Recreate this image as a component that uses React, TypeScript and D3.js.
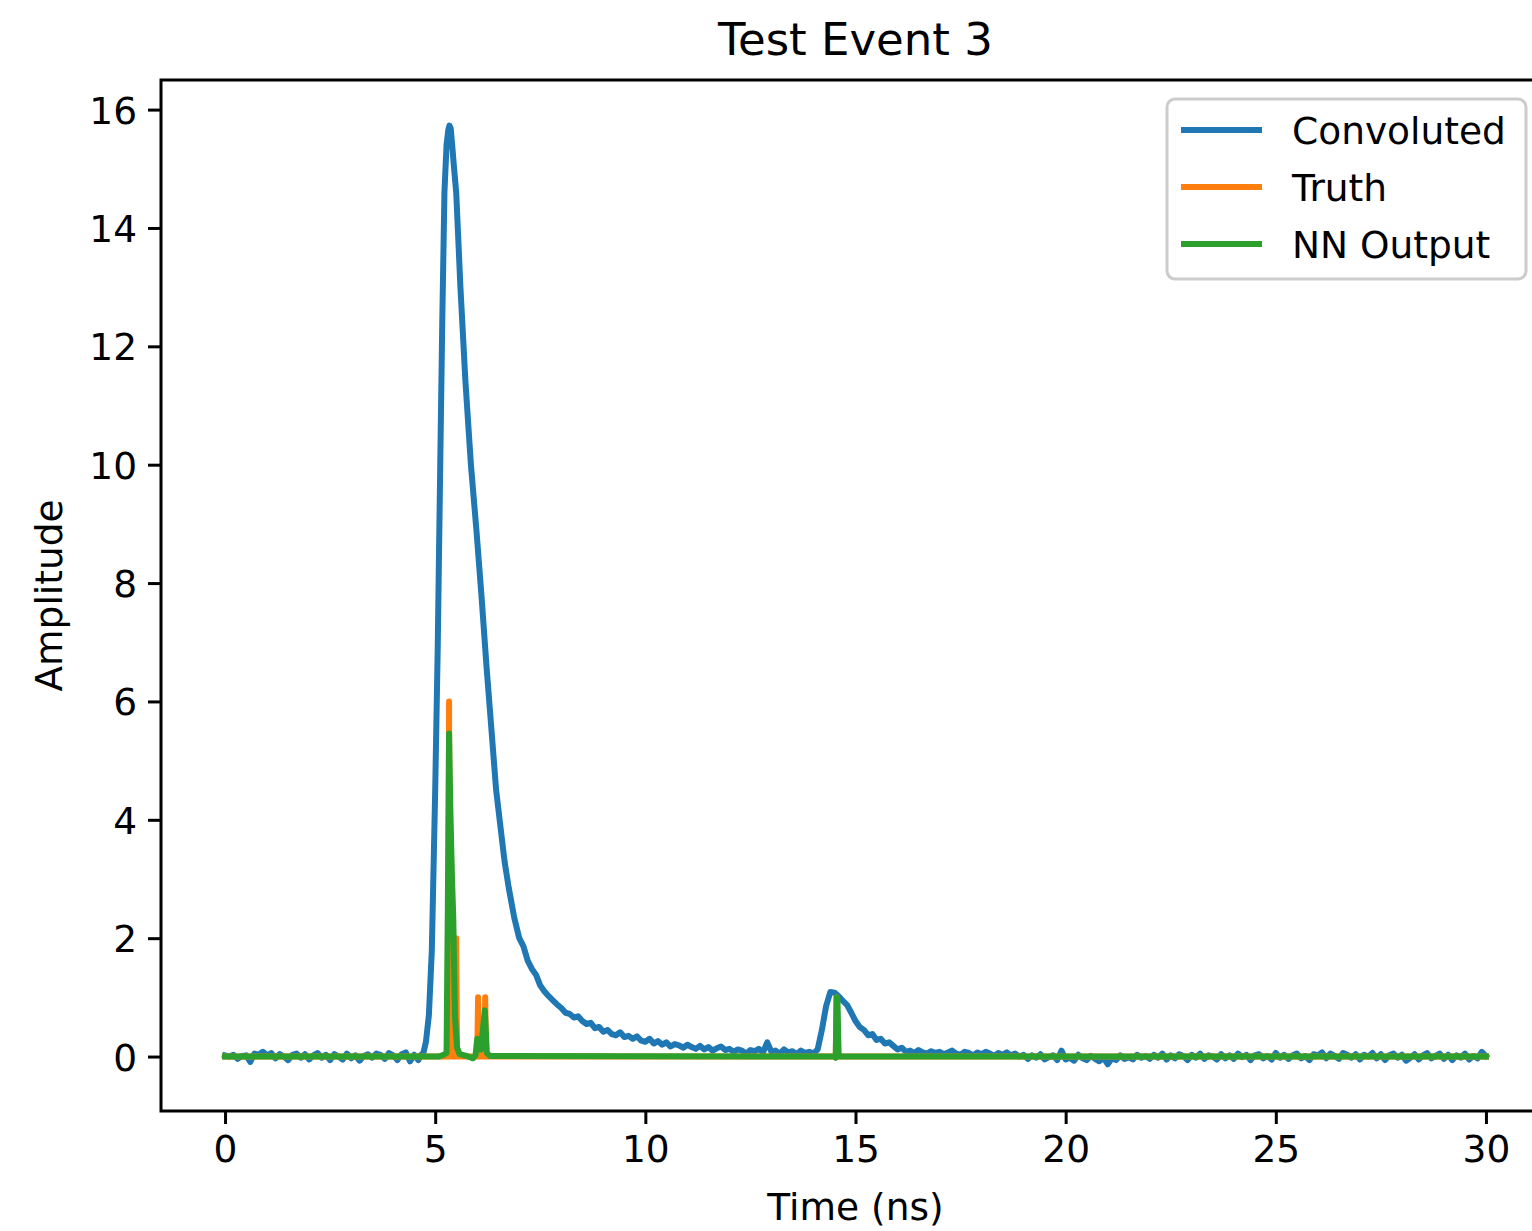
import React, { useEffect, useRef } from "react";
import * as d3 from "d3";

// Convoluted signal, sampled every 0.1 ns before the main pulse (0.0 .. 4.6 ns)
const convolutedPre = [
  0.02, 0.0, 0.03, -0.04, 0.01, 0.02, -0.09, 0.05, 0.03, 0.08,
  0.02, 0.06, -0.03, 0.04, 0.0, -0.06, 0.03, 0.05, -0.02, 0.04,
  -0.05, 0.02, 0.06, -0.02, 0.03, -0.06, 0.04, 0.0, -0.05, 0.05,
  -0.03, 0.02, -0.07, 0.01, 0.04, -0.02, 0.05, 0.03, -0.04, 0.06,
  0.02, -0.06, 0.04, 0.07, -0.08, 0.03, -0.06,
];

// main pulse, read point by point (time ns, amplitude)
const convolutedPeak: [number, number][] = [
  [4.65, 0.02], [4.72, 0.06], [4.78, 0.25], [4.85, 0.7], [4.92, 1.8],
  [5.0, 4.5], [5.06, 6.9], [5.12, 10.0], [5.17, 12.5], [5.22, 14.6],
  [5.27, 15.4], [5.31, 15.65], [5.34, 15.73], [5.37, 15.68], [5.41, 15.35],
  [5.45, 15.0], [5.5, 14.6], [5.6, 13.0], [5.72, 11.4], [5.85, 10.0],
  [5.98, 8.9], [6.1, 7.8], [6.22, 6.6], [6.33, 5.6], [6.45, 4.5],
  [6.55, 3.9], [6.65, 3.3], [6.75, 2.85], [6.88, 2.35],
];

// Convoluted signal, every 0.1 ns from 7.0 to 30.0 ns
const convolutedTail = [
  2.0, 1.86, 1.62, 1.48, 1.38, 1.2, 1.1, 1.02, 0.95, 0.88,
  0.82, 0.74, 0.72, 0.66, 0.68, 0.6, 0.55, 0.57, 0.48, 0.5,
  0.42, 0.45, 0.38, 0.36, 0.41, 0.33, 0.35, 0.3, 0.34, 0.27,
  0.25, 0.3, 0.22, 0.26, 0.2, 0.24, 0.17, 0.21, 0.19, 0.15,
  0.2, 0.16, 0.13, 0.18, 0.12, 0.16, 0.1, 0.14, 0.17, 0.11,
  0.13, 0.08, 0.12, 0.1, 0.05, 0.11, 0.09, 0.13, 0.07, 0.24,
  0.08, 0.1, 0.05, 0.12, 0.07, 0.09, 0.04, 0.1, 0.06, 0.08,
  0.05, 0.12, 0.45, 0.85, 1.09, 1.08, 1.02, 0.94, 0.87, 0.74,
  0.6, 0.5, 0.45, 0.36, 0.38, 0.28, 0.3, 0.22, 0.24, 0.18,
  0.12, 0.15, 0.08, 0.1, 0.06, 0.11, 0.07, 0.05, 0.09, 0.06,
  0.08, 0.04, 0.07, 0.1, 0.05, 0.03, 0.08, 0.06, 0.02, 0.07,
  0.04, 0.08, 0.05, 0.01, 0.06, 0.03, 0.07, 0.02, 0.05, 0.0,
  0.03, -0.04, 0.02, -0.02, 0.04, -0.05, -0.01, 0.02, -0.06, 0.1,
  -0.05, -0.02, -0.07, 0.03, -0.03, -0.06, 0.01, -0.04, -0.08, -0.02,
  -0.13, -0.03, -0.06, 0.02, -0.04, -0.01, -0.05, 0.03, -0.02, 0.01,
  -0.04, 0.03, -0.02, 0.05, -0.05, 0.02, -0.03, 0.04, 0.01, -0.06,
  0.03, -0.02, 0.05, -0.04, 0.02, 0.0, -0.05, 0.04, -0.03, 0.02,
  -0.04, 0.05, -0.01, 0.03, -0.06, 0.02, 0.04, -0.03, 0.01, -0.05,
  0.06, -0.02, 0.03, -0.04, 0.02, 0.05, -0.03, 0.01, -0.06, 0.04,
  0.02, 0.07, -0.03, 0.05, 0.01, -0.04, 0.06, 0.03, -0.02, 0.04,
  -0.05, 0.03, 0.0, 0.06, -0.03, 0.04, -0.06, 0.02, 0.05, -0.02,
  0.03, -0.07, -0.02, 0.04, -0.05, 0.02, 0.06, -0.03, 0.01, 0.05,
  -0.04, 0.03, -0.06, 0.02, -0.02, 0.05, -0.05, 0.01, -0.03, 0.08,
  0.01,
];

// Truth: photon hits as narrow spikes (time ns, amplitude)
const truthPoints: [number, number][] = [
  [0, 0], [5.31, 0], [5.33, 6.0], [5.35, 0], [5.48, 0], [5.5, 2.0], [5.52, 0],
  [6.0, 0], [6.02, 1.0], [6.04, 0], [6.17, 0], [6.19, 1.0], [6.21, 0],
  [14.53, 0], [14.55, 1.0], [14.57, 0], [30, 0],
];

// NN Output (time ns, amplitude)
const nnPoints: [number, number][] = [
  [0, 0], [5.1, 0], [5.2, 0.03], [5.27, 0.06], [5.3, 2.5], [5.33, 5.46],
  [5.36, 4.2], [5.4, 3.0], [5.43, 2.36], [5.47, 0.67], [5.52, 0.15],
  [5.58, 0.04], [5.75, 0.01], [5.9, -0.03], [5.96, 0.02], [6.0, 0.3],
  [6.04, 0.12], [6.09, 0.12], [6.18, 0.78], [6.23, 0.06], [6.3, 0.01],
  [14.5, 0], [14.53, -0.02], [14.55, 1.0], [14.57, 0.98], [14.6, 0],
  [14.65, 0], [30, 0],
];

const xTicks = [0, 5, 10, 15, 20, 25, 30];
const yTicks = [0, 2, 4, 6, 8, 10, 12, 14, 16];
const seriesNames = ["Convoluted", "Truth", "NN Output"];
const seriesColors = ["#1f77b4", "#ff7f0e", "#2ca02c"];

function App() {
  const chart = useRef<SVGSVGElement>(null);

  useEffect(() => {
    const W = 1532;
    const H = 1231;
    const left = 162, right = 1549, top = 80, bottom = 1111;
    const font = "DejaVu Sans";
    const lw = 6;

    const svg = d3.select(chart.current)
      .attr("width", W)
      .attr("height", H)
      .style("position", "absolute")
      .style("left", "0px")
      .style("top", "0px")
      .style("background", "#fff");

    const x = d3.scaleLinear().domain([-1.5, 31.5]).range([left, right]);
    const y = d3.scaleLinear().domain([-0.92, 16.5]).range([bottom, top]);

    const step = 0.1;
    const convoluted: [number, number][] = [
      ...convolutedPre.map((v, i) => [i * step, v] as [number, number]),
      ...convolutedPeak,
      ...convolutedTail.map((v, i) => [(70 + i) / 10, v] as [number, number]),
    ];
    const series = [convoluted, truthPoints, nnPoints];

    const line = d3.line<[number, number]>()
      .x(d => x(d[0]))
      .y(d => y(d[1]));

    const plot = svg.append("g");
    series.forEach((s, i) => {
      plot.append("path")
        .datum(s)
        .attr("d", line)
        .attr("fill", "none")
        .attr("stroke", seriesColors[i])
        .attr("stroke-width", lw)
        .attr("stroke-linejoin", "round")
        .attr("stroke-linecap", "square");
    });

    // axes
    const xAxis = d3.axisBottom(x)
      .tickValues(xTicks)
      .tickSize(13)
      .tickSizeOuter(0)
      .tickPadding(11)
      .tickFormat(d3.format("d"));
    const gx = svg.append("g")
      .attr("transform", `translate(0,${bottom})`)
      .call(xAxis);

    const yAxis = d3.axisLeft(y)
      .tickValues(yTicks)
      .tickSize(13)
      .tickSizeOuter(0)
      .tickPadding(11)
      .tickFormat(d3.format("d"));
    const gy = svg.append("g")
      .attr("transform", `translate(${left - 1},0)`)
      .call(yAxis);

    [gx, gy].forEach(g => {
      g.select(".domain").remove();
      g.selectAll(".tick line").attr("stroke", "#000").attr("stroke-width", 3);
      g.selectAll(".tick text")
        .attr("fill", "#000")
        .style("font-family", font)
        .style("font-size", "37.5px");
    });
    gy.selectAll(".tick text").attr("dy", "0.36em");

    // spines
    svg.append("rect")
      .attr("x", left - 1)
      .attr("y", top)
      .attr("width", right - left + 1)
      .attr("height", bottom - top)
      .attr("fill", "none")
      .attr("stroke", "#000")
      .attr("stroke-width", 3)
      .attr("stroke-linejoin", "miter");

    // title and labels
    svg.append("text")
      .attr("x", (left + right) / 2)
      .attr("y", 55)
      .attr("text-anchor", "middle")
      .style("font-family", font)
      .style("font-size", "45px")
      .text("Test Event 3");

    svg.append("text")
      .attr("x", (left + right) / 2)
      .attr("y", 1220)
      .attr("text-anchor", "middle")
      .style("font-family", font)
      .style("font-size", "37.5px")
      .text("Time (ns)");

    svg.append("text")
      .attr("transform", `translate(62,${(top + bottom) / 2}) rotate(-90)`)
      .attr("text-anchor", "middle")
      .style("font-family", font)
      .style("font-size", "37.5px")
      .text("Amplitude");

    // legend
    const legend = svg.append("g");
    legend.append("rect")
      .attr("x", 1167)
      .attr("y", 99)
      .attr("width", 359)
      .attr("height", 180)
      .attr("rx", 8)
      .attr("fill", "#fff")
      .attr("fill-opacity", 0.8)
      .attr("stroke", "#cccccc")
      .attr("stroke-width", 3);

    seriesNames.forEach((name, i) => {
      const ly = 130 + i * 57;
      legend.append("line")
        .attr("x1", 1181)
        .attr("x2", 1262)
        .attr("y1", ly)
        .attr("y2", ly)
        .attr("stroke", seriesColors[i])
        .attr("stroke-width", lw);
      legend.append("text")
        .attr("x", 1292)
        .attr("y", ly + 14)
        .style("font-family", font)
        .style("font-size", "37.5px")
        .text(name);
    });

    return () => {
      svg.selectAll("*").remove();
    };
  }, []);

  return <svg ref={chart}></svg>;
}

export default App;
